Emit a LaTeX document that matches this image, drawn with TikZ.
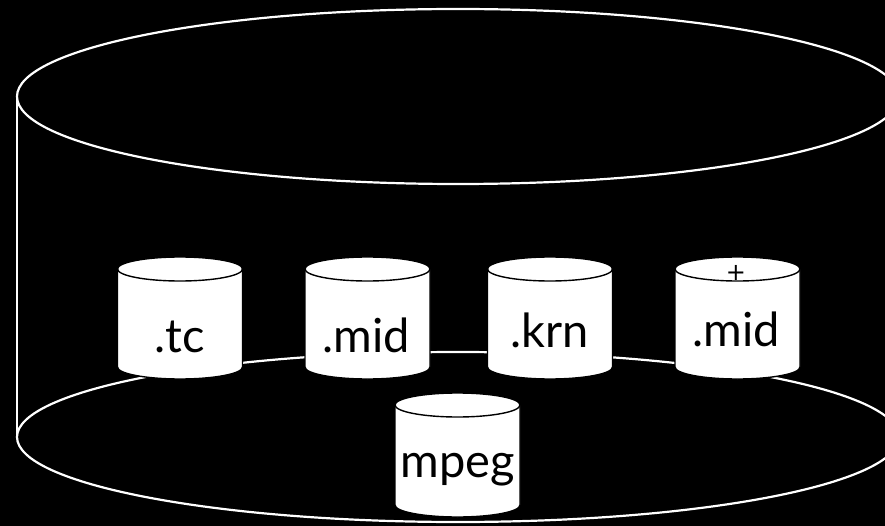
\documentclass[tikz,border=0pt]{standalone}
\usepackage{fontspec}
\setmainfont{Lato}
\newfontfamily\plusfont{DejaVu Sans}
\tikzset{
  big/.style={draw=white, line width=2.2pt},
  dbbody/.style={fill=white, draw=black, line width=1.4pt},
  dbrim/.style={draw=black, line width=1.4pt},
  lbl/.style={anchor=base, font=\fontsize{47}{50}\selectfont, text=black, inner sep=0pt},
  small/.style={anchor=center, font=\plusfont\fontsize{24}{26}\selectfont, text=black, inner sep=0pt},
  pics/db/.style args={#1/#2}{code={
    \path[dbbody] (-62.5,#1) -- (-62.5,#2) arc[start angle=180, end angle=0, x radius=62.5, y radius=12]
      -- (62.5,#1) arc[start angle=0, end angle=-180, x radius=62.5, y radius=12] -- cycle;
    \draw[dbrim] (-62.5,#1) arc[start angle=180, end angle=0, x radius=62.5, y radius=12];
  }}
}
\begin{document}
\begin{tikzpicture}[x=1pt, y=-1pt]
\fill[black] (0,0) rectangle (885,526);
\useasboundingbox (0,0) rectangle (885,526);
\clip (0,0) rectangle (885,526);
% big cylinder
\coordinate (tl) at (17,96.5);
\coordinate (bl) at (17,437);
\coordinate (tr) at (899,96.5);
\coordinate (br) at (899,437);
\draw[big] (458,96.5) ellipse[x radius=441, y radius=87.5];
\draw[big] (458,437) ellipse[x radius=441, y radius=85];
\draw[big] (tl) -- (bl);
\draw[big] (tr) -- (br);
% small cylinders
\pic at (180,0) {db={269/367}};
\pic at (367.5,0) {db={269/367}};
\pic at (550,0) {db={269/367}};
\pic at (737.5,0) {db={269/367}};
\pic at (457.5,0) {db={405/505}};
\node[lbl] (tc) at (180,352) {.tc};
\node[lbl] (mid) at (366,352) {.mid};
\node[lbl] (krn) at (550,347) {.krn};
\node[lbl] (midp) at (736,346) {.mid};
\node[small] (plus) at (736,273) {+};
\node[lbl] (mpeg) at (458,477) {mpeg};
\end{tikzpicture}
\end{document}
